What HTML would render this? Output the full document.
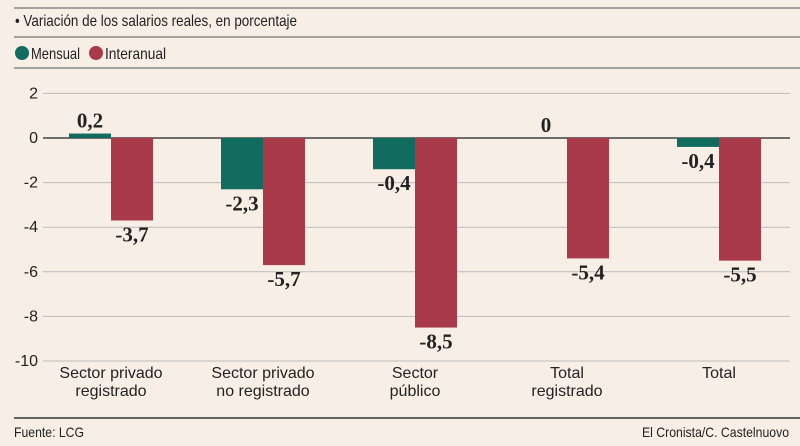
<!DOCTYPE html>
<html><head><meta charset="utf-8"><style>
body{margin:0;background:#f7efe5;}
svg{display:block;font-family:"Liberation Sans",sans-serif;}
</style></head><body>
<svg id="c" width="800" height="446">
<rect width="800" height="446" fill="#f7efe5"/>
<line x1="14" x2="800" y1="8" y2="8" stroke="#888" stroke-width="1.5"/>
<text x="15" y="26" font-size="16" fill="#222" textLength="282" lengthAdjust="spacingAndGlyphs">• Variación de los salarios reales, en porcentaje</text>
<line x1="14" x2="800" y1="37" y2="37" stroke="#888" stroke-width="1.5"/>
<circle cx="22" cy="53" r="7" fill="#116b5e"/>
<text x="31" y="59" font-size="16" fill="#222" textLength="49" lengthAdjust="spacingAndGlyphs">Mensual</text>
<circle cx="96" cy="53" r="7" fill="#a93a4a"/>
<text x="105" y="59" font-size="16" fill="#222" textLength="61" lengthAdjust="spacingAndGlyphs">Interanual</text>
<line x1="14" x2="800" y1="68" y2="68" stroke="#888" stroke-width="1.5"/>
<g id="plot"></g>
<line x1="14" x2="800" y1="418" y2="418" stroke="#333" stroke-width="1.5"/>
<text x="14" y="437" font-size="14" fill="#222" textLength="70" lengthAdjust="spacingAndGlyphs">Fuente: LCG</text>
<text x="642" y="437" font-size="14" fill="#222" textLength="147" lengthAdjust="spacingAndGlyphs">El Cronista/C. Castelnuovo</text>
</svg>
<script>
const categories=[["Sector privado","registrado"],["Sector privado","no registrado"],["Sector","público"],["Total","registrado"],["Total"]];
const mensual=[0.2,-2.3,-1.4,0,-0.4];
const mensualLabels=["0,2","-2,3","-0,4","0","-0,4"];
const interanual=[-3.7,-5.7,-8.5,-5.4,-5.5];
const interanualLabels=["-3,7","-5,7","-8,5","-5,4","-5,5"];
const ticks=[2,0,-2,-4,-6,-8,-10];
const NS="http://www.w3.org/2000/svg";
const g=document.getElementById('plot');
const y=v=>138-v*22.3;
const xc=i=>111+i*152;
const bw=42;
function el(t,a,txt){const e=document.createElementNS(NS,t);for(const k in a)e.setAttribute(k,a[k]);if(txt!==undefined)e.textContent=txt;g.appendChild(e);return e;}
ticks.forEach(t=>{
 const l=el('line',{x1:43,x2:790,y1:y(t),y2:y(t),stroke:t===0?'#444':'#bbb','stroke-width':t===0?1.5:1});
 
 
 const tx=el('text',{x:38,y:y(t)+5,'font-size':16,fill:'#222','text-anchor':'end'},String(t));
 
 
});
const vf='font-family:"Liberation Serif",serif;font-weight:bold;';
categories.forEach((c,i)=>{
 const m=mensual[i],n=interanual[i];
 const r1=el('rect',{x:xc(i)-bw,y:Math.min(y(m),y(0)),width:bw,height:Math.abs(y(m)-y(0)),fill:'#116b5e'});
 
 
 const r2=el('rect',{x:xc(i),y:Math.min(y(n),y(0)),width:bw,height:Math.abs(y(n)-y(0)),fill:'#a93a4a'});
 
 
 const ly1=m>=0?y(m)-6:y(m)+21;
 const t1=el('text',{x:xc(i)-bw/2,y:ly1,'font-size':21,fill:'#222','text-anchor':'middle',style:vf},mensualLabels[i]);
 
 
 const t2=el('text',{x:xc(i)+bw/2,y:y(n)+21,'font-size':21,fill:'#222','text-anchor':'middle',style:vf},interanualLabels[i]);
 
 
 c.forEach((line,k)=>{
  const ct=el('text',{x:xc(i),y:378+k*18,'font-size':16,fill:'#222','text-anchor':'middle'},line);
  
  
 });
});
</script>
</body></html>
